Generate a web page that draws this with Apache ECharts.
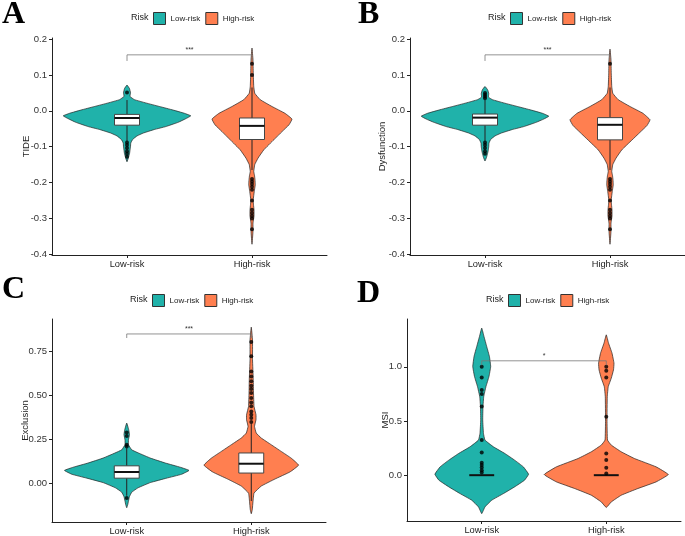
<!DOCTYPE html>
<html>
<head>
<meta charset="utf-8">
<script src="https://cdn.jsdelivr.net/npm/echarts@6/dist/echarts.min.js"></script>
<style>
  html, body { margin: 0; padding: 0; background: #fff; }
  #chart { width: 685px; height: 536px; }
</style>
</head>
<body>
<div id="chart"></div>
<script>
'use strict';

const categories = ['Low-risk', 'High-risk'];

// violin outlines: [value, half width in category units], top to bottom
const tideLowViolin = [[0.072, 0], [0.062, 0.02], [0.05, 0.028], [0.04, 0.024], [0.031, 0.06], [0.022, 0.15], [0.012, 0.26], [0.002, 0.37], [-0.007, 0.46], [-0.014, 0.51], [-0.022, 0.47], [-0.032, 0.41], [-0.044, 0.31], [-0.052, 0.22], [-0.062, 0.13], [-0.07, 0.08], [-0.08, 0.045], [-0.09, 0.03], [-0.1, 0.028], [-0.11, 0.024], [-0.12, 0.02], [-0.13, 0.012], [-0.142, 0]];
const tideHighViolin = [[0.175, 0], [0.142, 0.008], [0.105, 0.01], [0.068, 0.014], [0.049, 0.022], [0.031, 0.066], [0.012, 0.16], [-0.007, 0.264], [-0.023, 0.32], [-0.039, 0.296], [-0.058, 0.24], [-0.081, 0.174], [-0.109, 0.094], [-0.132, 0.048], [-0.15, 0.022], [-0.169, 0.014], [-0.18, 0.02], [-0.192, 0.024], [-0.206, 0.026], [-0.225, 0.018], [-0.248, 0.01], [-0.262, 0.012], [-0.276, 0.016], [-0.294, 0.016], [-0.313, 0.008], [-0.336, 0.008], [-0.372, 0]];
const dysLowViolin = [[0.068, 0], [0.058, 0.022], [0.048, 0.03], [0.038, 0.028], [0.031, 0.06], [0.022, 0.15], [0.012, 0.26], [0.002, 0.37], [-0.007, 0.46], [-0.015, 0.51], [-0.023, 0.47], [-0.032, 0.41], [-0.044, 0.31], [-0.052, 0.22], [-0.062, 0.13], [-0.07, 0.08], [-0.08, 0.045], [-0.09, 0.032], [-0.1, 0.03], [-0.11, 0.026], [-0.12, 0.02], [-0.13, 0.012], [-0.14, 0]];
const dysHighViolin = [[0.172, 0], [0.142, 0.008], [0.105, 0.01], [0.068, 0.014], [0.049, 0.022], [0.031, 0.066], [0.012, 0.16], [-0.007, 0.264], [-0.025, 0.32], [-0.041, 0.296], [-0.06, 0.24], [-0.082, 0.174], [-0.109, 0.094], [-0.132, 0.048], [-0.15, 0.022], [-0.169, 0.014], [-0.18, 0.02], [-0.192, 0.024], [-0.206, 0.026], [-0.225, 0.018], [-0.248, 0.01], [-0.262, 0.012], [-0.276, 0.016], [-0.294, 0.016], [-0.313, 0.008], [-0.336, 0.008], [-0.372, 0]];
const excLowViolin = [[0.343, 0], [0.305, 0.016], [0.277, 0.022], [0.248, 0.014], [0.22, 0.014], [0.191, 0.04], [0.173, 0.094], [0.144, 0.19], [0.116, 0.31], [0.092, 0.43], [0.074, 0.5], [0.052, 0.44], [0.03, 0.32], [0.005, 0.19], [-0.025, 0.09], [-0.05, 0.04], [-0.075, 0.022], [-0.1, 0.014], [-0.121, 0.008], [-0.138, 0]];
const excHighViolin = [[0.888, 0], [0.816, 0.01], [0.703, 0.01], [0.589, 0.016], [0.514, 0.018], [0.4375, 0.022], [0.39, 0.038], [0.362, 0.038], [0.324, 0.026], [0.286, 0.04], [0.258, 0.08], [0.22, 0.16], [0.182, 0.24], [0.144, 0.32], [0.104, 0.38], [0.065, 0.31], [0.025, 0.19], [-0.015, 0.08], [-0.055, 0.022], [-0.102, 0.014], [-0.149, 0.008], [-0.172, 0]];
const msiLowViolin = [[1.358, 0], [1.281, 0.018], [1.188, 0.04], [1.095, 0.062], [1.003, 0.072], [0.91, 0.058], [0.818, 0.034], [0.725, 0.016], [0.632, 0.01], [0.509, 0.008], [0.386, 0.014], [0.324, 0.026], [0.262, 0.094], [0.2, 0.186], [0.139, 0.264], [0.077, 0.334], [0.009, 0.376], [-0.046, 0.344], [-0.108, 0.264], [-0.17, 0.174], [-0.231, 0.08], [-0.293, 0.026], [-0.355, 0]];
const msiHighViolin = [[1.296, 0], [1.22, 0.018], [1.127, 0.046], [1.034, 0.062], [0.972, 0.058], [0.895, 0.04], [0.818, 0.016], [0.725, 0.008], [0.509, 0.006], [0.324, 0.01], [0.278, 0.04], [0.216, 0.12], [0.154, 0.226], [0.077, 0.4], [0.006, 0.498], [-0.062, 0.4], [-0.123, 0.254], [-0.185, 0.12], [-0.247, 0.04], [-0.298, 0]];

// boxes: [lower whisker, q1, median, q3, upper whisker]
const tideLowBox = [-0.085, -0.04, -0.02, -0.01, 0.03];
const tideHighBox = [-0.165, -0.08, -0.042, -0.02, 0.065];
const dysLowBox = [-0.085, -0.04, -0.019, -0.009, 0.03];
const dysHighBox = [-0.165, -0.081, -0.039, -0.019, 0.065];
const excLowBox = [-0.07, 0.03, 0.065, 0.1, 0.2];
const excHighBox = [-0.1, 0.059, 0.112, 0.173, 0.34];
const msiLowBox = [0, 0, 0, 0, 0];
const msiHighBox = [0, 0, 0, 0, 0];

// outlier points
const tideLowOut = [0.051, -0.088, -0.095, -0.104, -0.113, -0.12, -0.128];
const tideHighOut = [0.131, 0.1, -0.19, -0.197, -0.204, -0.212, -0.22, -0.25, -0.276, -0.285, -0.293, -0.3, -0.33];
const dysLowOut = [0.05, 0.045, 0.04, 0.035, -0.088, -0.095, -0.104, -0.113, -0.12];
const dysHighOut = [0.131, -0.19, -0.197, -0.204, -0.212, -0.22, -0.25, -0.276, -0.285, -0.293, -0.3, -0.33];
const excLowOut = [0.21, 0.22, 0.27, 0.29, -0.083];
const excHighOut = [0.803, 0.722, 0.636, 0.608, 0.58, 0.555, 0.536, 0.514, 0.485, 0.46, 0.438, 0.409, 0.39, 0.372, 0.349];
const msiLowOut = [1.0, 0.901, 0.787, 0.75, 0.633, 0.324, 0.21, 0.114, 0.093, 0.071, 0.046, 0.025];
const msiHighOut = [1.0, 0.965, 0.901, 0.54, 0.2, 0.14, 0.068, 0.015];

// significance brackets: [tip bottom, bar], label
const tideBracket = [0.139, 0.156];
const dysBracket = [0.139, 0.156];
const excBracket = [0.826, 0.849];
const msiBracket = [1.015, 1.056];
const bracketLabels = ['***', '***', '***', '*'];

// tick labels
const tideTicks = [-0.4, -0.3, -0.2, -0.1, 0, 0.1, 0.2];
const excTicks = [0, 0.25, 0.5, 0.75];
const msiTicks = [0, 0.5, 1.0];

const colors = ['#20B2AA', '#FF7F50'];
const FONT = 'Liberation Sans, Arial, sans-serif';
const BOX_HALF = 0.1;

const panels = [
  { letter: 'A', yName: 'TIDE', nameGap: 21, grid: { left: 52, top: 38, width: 275, height: 217 },
    min: -0.402, max: 0.203, ticks: tideTicks, digits: 1,
    violins: [tideLowViolin, tideHighViolin], boxes: [tideLowBox, tideHighBox],
    outliers: [tideLowOut, tideHighOut], bracket: tideBracket,
    letterPos: [2, 15], legendTop: 12, riskX: 131, legendLeft: 153 },
  { letter: 'B', yName: 'Dysfunction', nameGap: 22.5, grid: { left: 410, top: 38, width: 275, height: 217 },
    min: -0.402, max: 0.203, ticks: tideTicks, digits: 1,
    violins: [dysLowViolin, dysHighViolin], boxes: [dysLowBox, dysHighBox],
    outliers: [dysLowOut, dysHighOut], bracket: dysBracket,
    letterPos: [358, 15], legendTop: 12, riskX: 488, legendLeft: 510 },
  { letter: 'C', yName: 'Exclusion', nameGap: 22, grid: { left: 52, top: 319, width: 274, height: 203 },
    min: -0.219, max: 0.934, ticks: excTicks, digits: 2,
    violins: [excLowViolin, excHighViolin], boxes: [excLowBox, excHighBox],
    outliers: [excLowOut, excHighOut], bracket: excBracket,
    letterPos: [2, 290], legendTop: 294, riskX: 130, legendLeft: 152 },
  { letter: 'D', yName: 'MSI', nameGap: 17, grid: { left: 407, top: 319, width: 274, height: 202 },
    min: -0.423, max: 1.442, ticks: msiTicks, digits: 1,
    violins: [msiLowViolin, msiHighViolin], boxes: [msiLowBox, msiHighBox],
    outliers: [msiLowOut, msiHighOut], bracket: msiBracket,
    letterPos: [357, 294], legendTop: 294, riskX: 486, legendLeft: 508 }
];

function violinRenderer(profile, color) {
  return function (params, api) {
    const cx = api.value(0);
    const right = profile.map(([v, w]) => api.coord([cx + w, v]));
    const left = profile.slice(1, -1).map(([v, w]) => api.coord([cx - w, v])).reverse();
    return {
      type: 'polygon',
      shape: { points: right.concat(left), smooth: 0.1 },
      style: { fill: color, stroke: '#222', lineWidth: 0.7 }
    };
  };
}

function renderBox(params, api) {
  const x = api.value(0);
  const wlo = api.value(1), q1 = api.value(2), med = api.value(3), q3 = api.value(4), whi = api.value(5);
  const tl = api.coord([x - BOX_HALF, q3]);
  const br = api.coord([x + BOX_HALF, q1]);
  const top = api.coord([x, whi]);
  const bot = api.coord([x, wlo]);
  const mL = api.coord([x - BOX_HALF, med]);
  const mR = api.coord([x + BOX_HALF, med]);
  const children = [
    { type: 'line', shape: { x1: top[0], y1: top[1], x2: top[0], y2: tl[1] }, style: { stroke: '#222', lineWidth: 1 } },
    { type: 'line', shape: { x1: bot[0], y1: bot[1], x2: bot[0], y2: br[1] }, style: { stroke: '#222', lineWidth: 1 } }
  ];
  if (br[1] - tl[1] > 0.5) {
    children.push({ type: 'rect', shape: { x: tl[0], y: tl[1], width: br[0] - tl[0], height: br[1] - tl[1] },
      style: { fill: '#fff', stroke: '#444', lineWidth: 1 } });
  }
  children.push({ type: 'line', shape: { x1: mL[0], y1: mL[1], x2: mR[0], y2: mR[1] }, style: { stroke: '#111', lineWidth: 2 } });
  return { type: 'group', children: children };
}

function bracketRenderer(label) {
  return function (params, api) {
    const lo = api.value(0), hi = api.value(1);
    const a = api.coord([1, lo]), b = api.coord([1, hi]), c = api.coord([2, hi]), d = api.coord([2, lo]);
    return {
      type: 'group',
      children: [
        { type: 'polyline', shape: { points: [a, b, c, d] }, style: { stroke: '#777', lineWidth: 0.8, fill: null } },
        { type: 'text', style: { x: (b[0] + c[0]) / 2, y: b[1] - 1.5, text: label, align: 'center', verticalAlign: 'bottom',
          font: '7px ' + FONT, fill: '#333' } }
      ]
    };
  };
}

const grids = [], xAxes = [], yAxes = [], series = [], legends = [], graphics = [];

panels.forEach((p, i) => {
  grids.push(p.grid);
  xAxes.push({
    type: 'value', gridIndex: i, min: 0.4, max: 2.6,
    splitLine: { show: false },
    axisLine: { onZero: false, lineStyle: { color: '#222', width: 1 } },
    axisTick: { customValues: [1, 2], length: 3, lineStyle: { color: '#222' } },
    axisLabel: { customValues: [1, 2], margin: 5, fontSize: 9.3, fontFamily: FONT, color: '#222',
      formatter: v => categories[Math.round(v) - 1] }
  });
  yAxes.push({
    type: 'value', gridIndex: i, min: p.min, max: p.max,
    name: p.yName, nameLocation: 'middle', nameRotate: 90, nameGap: p.nameGap, nameMoveOverlap: false,
    nameTextStyle: { fontSize: 9.5, fontFamily: FONT, color: '#222' },
    splitLine: { show: false },
    axisLine: { show: true, onZero: false, lineStyle: { color: '#222', width: 1 } },
    axisTick: { show: true, customValues: p.ticks, length: 3, lineStyle: { color: '#222' } },
    axisLabel: { customValues: p.ticks, margin: 5, fontSize: 9.5, fontFamily: FONT, color: '#333',
      formatter: v => v.toFixed(p.digits) }
  });

  p.violins.forEach((prof, k) => {
    series.push({
      type: 'custom', name: categories[k], xAxisIndex: i, yAxisIndex: i, z: 1,
      itemStyle: { color: colors[k] },
      data: [[k + 1, 0]],
      renderItem: violinRenderer(prof, colors[k]),
      silent: true
    });
  });
  series.push({
    type: 'custom', name: 'box' + i, xAxisIndex: i, yAxisIndex: i, z: 2, silent: true,
    data: p.boxes.map((b, k) => [k + 1].concat(b)),
    encode: { x: 0, y: [1, 2, 3, 4, 5] },
    renderItem: renderBox
  });
  series.push({
    type: 'scatter', name: 'outliers' + i, xAxisIndex: i, yAxisIndex: i, z: 3, silent: true,
    symbolSize: 4, itemStyle: { color: '#000' },
    data: p.outliers.flatMap((arr, k) => arr.map(v => [k + 1, v]))
  });
  series.push({
    type: 'custom', name: 'sig' + i, xAxisIndex: i, yAxisIndex: i, z: 4, silent: true,
    data: [p.bracket],
    encode: { x: [], y: [0, 1] },
    renderItem: bracketRenderer(bracketLabels[i])
  });

  legends.push({
    data: categories, left: p.legendLeft, top: p.legendTop, padding: 0,
    icon: 'rect', itemWidth: 12, itemHeight: 12, itemGap: 5,
    itemStyle: { borderColor: '#333', borderWidth: 1 },
    textStyle: { fontSize: 8, fontFamily: FONT, color: '#222' },
    selectedMode: false
  });
  graphics.push({
    type: 'text', left: p.riskX, top: p.legendTop + 1,
    style: { text: 'Risk', font: '9px ' + FONT, fill: '#222' }
  });
  graphics.push({
    type: 'text', x: p.letterPos[0], y: p.letterPos[1],
    style: { text: p.letter, font: 'bold 32px "Liberation Serif", "Times New Roman", serif', fill: '#000',
      verticalAlign: 'middle' }
  });
});

const chart = echarts.init(document.getElementById('chart'), null, { renderer: 'canvas' });
chart.setOption({
  animation: false,
  backgroundColor: '#fff',
  grid: grids,
  xAxis: xAxes,
  yAxis: yAxes,
  legend: legends,
  graphic: graphics,
  series: series
});
</script>
</body>
</html>
